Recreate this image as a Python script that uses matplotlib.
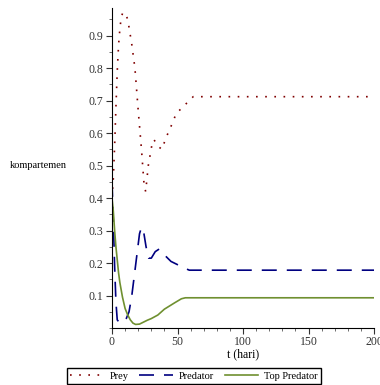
import matplotlib.pyplot as plt
from matplotlib.ticker import MultipleLocator

plt.rcParams['font.family'] = ['Liberation Serif', 'DejaVu Serif']

# Prey
t_prey = [0, 1, 2, 3, 4, 5, 6, 7, 8, 9, 10, 11, 12, 15, 17.5, 20, 22.5, 24.5,
          25.7, 27.7, 30.3, 32, 35, 38, 41.7, 45.5, 49, 54, 59, 62, 200]
prey = [0.40, 0.46, 0.56, 0.68, 0.79, 0.87, 0.92, 0.955, 0.968, 0.972, 0.968,
        0.96, 0.95, 0.876, 0.80, 0.67, 0.55, 0.44,
        0.42, 0.50, 0.56, 0.58, 0.56, 0.55, 0.59, 0.625, 0.66, 0.68, 0.70, 0.712, 0.712]

# Predator
t_pred = [0, 1, 2, 3, 4, 6, 9, 11, 13, 15, 17, 19, 21, 22.5, 24, 26, 28, 30,
          33, 36, 40, 45, 50, 55, 59, 62, 200]
pred = [0.45, 0.33, 0.19, 0.08, 0.025, 0.015, 0.02, 0.03, 0.05, 0.096, 0.16,
        0.225, 0.29, 0.31, 0.30, 0.25, 0.215, 0.215,
        0.235, 0.243, 0.225, 0.205, 0.195, 0.185, 0.178, 0.178, 0.178]

# Top Predator
t_top = [0, 1, 2, 3, 4, 5, 6, 8, 10, 12, 14, 16, 18, 21, 24, 27, 30, 35, 40,
         44, 48, 53, 56, 200]
top = [0.40, 0.36, 0.30, 0.25, 0.21, 0.17, 0.14, 0.095, 0.06, 0.04, 0.025,
       0.015, 0.011, 0.012, 0.018, 0.024, 0.029, 0.04, 0.058,
       0.068, 0.078, 0.09, 0.093, 0.093]

fig = plt.figure(figsize=(3.8, 3.85), dpi=100)
ax = fig.add_axes([112 / 380, 1 - 328 / 385, 262 / 380, 320 / 385])

ax.plot(t_prey, prey, color='#800000', linestyle=(0, (1, 4.5)), linewidth=1.2, label='Prey')
ax.plot(t_pred, pred, color='#000080', linestyle=(0, (9, 6)), linewidth=1.2, label='Predator')
ax.plot(t_top, top, color='#6f9030', linestyle='-', linewidth=1.2, label='Top Predator')

ax.set_xlim(0, 200)
ax.set_ylim(0, 0.985)
for s in ['top', 'right']:
    ax.spines[s].set_visible(False)
ax.spines['left'].set_linewidth(0.8)
ax.spines['bottom'].set_linewidth(0.8)

ax.set_xticks([0, 50, 100, 150, 200])
ax.set_yticks([0.1, 0.2, 0.3, 0.4, 0.5, 0.6, 0.7, 0.8, 0.9])
ax.xaxis.set_minor_locator(MultipleLocator(10))
ax.yaxis.set_minor_locator(MultipleLocator(0.05))
ax.tick_params(which='major', length=4, width=0.8, labelsize=8.5, pad=2, colors='#333333')
ax.tick_params(which='minor', length=2, width=0.6, colors='#555555')

ax.set_xlabel('t (hari)', fontsize=8.5, labelpad=0)
fig.text(10 / 380, 1 - 165 / 385, 'kompartemen', fontsize=7.5, va='center', ha='left')

fig.legend(loc='center', bbox_to_anchor=(194 / 380, 1 - 376 / 385), ncol=3,
           fontsize=7.5, fancybox=False, edgecolor='black', framealpha=1,
           handlelength=3.2, handletextpad=0.6, columnspacing=1.0,
           borderpad=0.3, borderaxespad=0)

fig.savefig('out.png', dpi=100)
